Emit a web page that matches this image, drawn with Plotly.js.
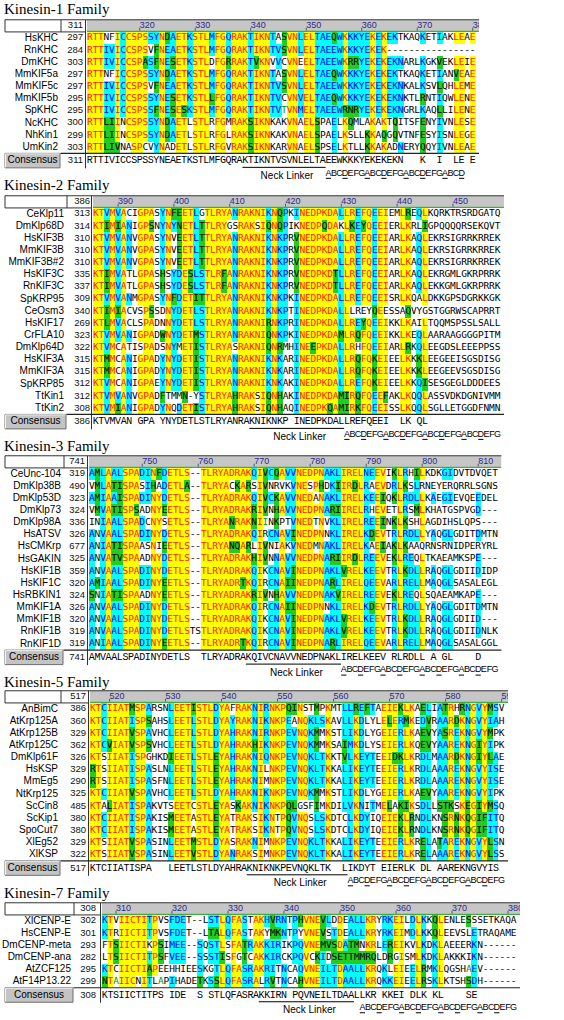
<!DOCTYPE html>
<html><head><meta charset="utf-8">
<script src="https://cdn.plot.ly/plotly-3.0.1.min.js"></script>
<style>html,body{margin:0;padding:0;background:#fff}#chart{width:564px;height:1020px}</style>
</head><body><div id="chart"></div>
<script>
// ---------------- DATA ----------------
const k1Names = ['HsKHC','RnKHC','DmKHC','MmKIF5a','MmKIF5c','MmKIF5b','SpKHC','NcKHC','NhKin1','UmKin2'];
const k1Starts = [297,284,303,297,297,295,295,300,299,303];
const k1Seqs = [
'RTTNFICCSPSSYNDAETKSTLMFGQRAKTIKNTASVNLELTAEQWKKKYEKEKEKTKAQKETIAKLEAE',
'RTTIVICCSPSVFNEAETKSTLMFGQRAKTIKNTVSVNLELTAEEWKKKYEKEK----------------',
'RTTIVICCSPASFNESETKSTLDFGRRAKTVKNVVCVNEELTAEEWKRRYEKEKEKNARLKGKVEKLEIE',
'RTTNFICCSPSSYNDAETKSTLMFGQRAKTIKNTASVNLELTAEQWKKKYEKEKEKTKAQKETIANVEAE',
'RTTIVICCSPSVFNEAETKSTLMFGQRAKTIKNTVSVNLELTAEEWKKKYEKEKEKNKALKSVLQHLEME',
'RTTIVICCSPSSYNESETKSTLLFGQRAKTIKNTVCVNVELTAEQWKKKYEKEKEKNKTLRNTIQWLENE',
'RTTIVICCSPSSFNESESKSTLMFGQRAKTIKNTVTVNMELTAEEWRNRYEKEKEKNGRLKAQLLILENE',
'RTTLIINCSPSSYNDAETLSTLRFGMRAKSIKNKAKVNAELSPAELKQMLAKAKTQITSFENYIVNLESE',
'RTTLIINCSPSSYNDAETLSTLRFGLRAKSIKNKAKVNAELSPAELKSLLKKAQGQVTNFESYISNLEGE',
'RTTLIVNASPCVYNADETLSTLRFGVRAKSIKNKARVNAELSPSELKTLLKKAKADNERYQQYIVNLEAE'];
const k1Consensus = 'RTTIVICCSPSSYNEAETKSTLMFGQRAKTIKNTVSVNLELTAEEWKKKYEKEKEKN   K  I  LE E';
const k1ConsStart = 311;

const k2Names = ['CeKlp11','DmKlp68D','HsKIF3B','MmKIF3B','MmKIF3B#2','HsKIF3C','RnKIF3C','SpKRP95','CeOsm3','HsKIF17','CrFLA10','DmKlp64D','HsKIF3A','MmKIF3A','SpKRP85','TtKin1','TtKin2'];
const k2Starts = [313,314,310,310,310,335,337,309,340,269,323,322,315,315,312,312,308];
const k2Seqs = [
'KTVMVACIGPASYNFEETLGTLRYANRAKNIKNQPKINEDPKDALLREFQEEIEMLREQLKQRKTRSRDGATQ',
'KTIMIANIGPSNYNYNETLTTLRYGSRAKSIQNQPIKNEDPQDAKLKEYQEEIERLKRLIGPQQQQRSEKQVT',
'KTVMVANVGPASYNVEETLTTLRYANRAKNIKNKPRVNEDPKDALLREFQEEIARLKAQLEKRSIGRRKRREK',
'KTVMVANVGPASYNVEETLTTLRYANRAKNIKNKPRVNEDPKDALLREFQEEIARLKAQLEKRSIGRRKRREK',
'KTVMVANVGPASYNVEETLTTLRYANRAKNIKNKPRVNEDPKDALLREFQEEIARLKAQLEKRSIGRRKRREK',
'KTIMVATLGPASHSYDESLSTLRFANRAKNIKNKPRVNEDPKDTLLREFQEEIARLKAQLEKRGMLGKRPRRK',
'KTIMVATLGPASHSYDESLSTLRFANRAKNIKNKPRVNEDPKDTLLREFQEEIARLKAQLEKKGMLGKRPRRK',
'KTVMVANMGPASYNFDETITTLRYANRAKNIKNKPKINEDPKDALLREFQEEISRLKQALDKKGPSDGRKKGK',
'KTIMIACVSPSSDNYDETLSTLRYANRAKNIKNKPTINEDPKDALLLREYQEESSAQVYGSTGGRWSCAPRRT',
'KTLMVACLSPADNNYDETLSTLRYANRAKNIRNKPRINEDPKDALLREYQEEIKKLKAILTQQMSPSSLSALL',
'KTVMVANIGPADWNYDETMSTLRYANRAKNIQNKPKINEDPKDAMLRQFQEEIKKLKEQLAARAAGGGGPITM',
'KTVMCATISPADSNYMETISTLRYASRAKNIQNRMHINEEPKDALLRHFQEEIARLRKQLEEGDSLEEEPPSS',
'KTMMCANIGPADYNYDETISTLRYANRAKNIKNKARINEDPKDALLRQFQKEIEELKKKLEEGEEISGSDISG',
'KTMMCANIGPADYNYDETISTLRYANRAKNIKNKARINEDPKDALLRQFQKEIEELKKKLEEGEEVSGSDISG',
'KTVMCANIGPAEYNYDETISTLRYANRAKNIKNKAKINEDPKDALLREFQKEIEELKKQISESGEGLDDDEES',
'KTVMVANVGPADFTMMN-YSTLRYAHRAKSIQNHAKINEDPKDAMIRQFQEEFAKLKQQLASSVDKDGNIVMM',
'KTVMIANIGPADYNQDETISTLRYAHRAKSIQNHAQINEDPKQAMIRKFQEEISSLKQQLSGLLETGGDFNMN'];
const k2Consensus = 'KTVMVAN GPA YNYDETLSTLRYANRAKNIKNKP INEDPKDALLREFQEEI  LK QL';
const k2ConsStart = 386;

const k3Names = ['CeUnc-104','DmKlp38B','DmKlp53D','DmKlp73','DmKlp98A','HsATSV','HsCMKrp','HsGAKIN','HsKIF1B','HsKIF1C','HsRBKIN1','MmKIF1A','MmKIF1B','RnKIF1B','RnKIF1D'];
const k3Starts = [319,490,323,324,336,326,677,325,359,320,324,326,320,319,319];
const k3Seqs = [
'AMLAALSPADINFDETLS--TLRYADRAKQIVCQAVVNEDPNAKLIRELNEEVIKLRHILKDKGIDVTDVQET',
'VMLATISPASIHADETLA--TLRYACKARSIVNRVKVNESPHDKIIRDLRAEVDRLKSLRNEYERQRRLSGNS',
'AMIAAISPADINYDETLS--TLRYADRAKQIVCKAVVNEDANAKLIRELKEEIQKLRDLLKAEGIEVQEEDEL',
'VMVATISPSADNYEETLS--TLRYADRAKRIVNHAVVNEDPNARIIRELRHEVETLRSMLKHATGSPVGD---',
'INIAALSPADCNYSETLS--TLRYANRAKNIINKPTVNEDTNVKLIRELREEINKLKSHLAGDIHSLQPS---',
'ANVAALSPADINYDETLS--TLRYADRAKQIRCNAVINEDPNNKLIRELKDEVTRLRDLLYAQGLGDITDMTN',
'ANIATISPAASNIEETLS--TLRYANQARLIVNIAKVNEDMNAKLIRELKAEIAKLKAAQRNSRNIDPERYRL',
'ANVATVSPAADNYDETLS--TLRYADRAKHIVNNAVVNEDPNARIIRDLREEVEKLREQLTKAEAMKSPE---',
'ANVAALSPADINYDETLS--TLRYADRAKQIKCNAVINEDPNAKLVRELKEEVTRLKDLLRAQGLGDIIDIDP',
'AMIAALSPADINYEETLS--TLRYADRTKQIRCNAIINEDPNARLIRELQEEVARLRELLMAQGLSASALEGL',
'SNIATISPAADNYEETLS--TLRYADRAKRIVNHAVVNEDPNAKVIRELREEVEKLREQLSQAEAMKAPE---',
'ANVAALSPADINYDETLS--TLRYADRAKQIRCNAIINEDPNNKLIRELKDEVTRLRDLLYAQGLGDITDMTN',
'ANVAALSPADINYDETLS--TLRYADRAKQIKCNAVINEDPNAKLVRELKEEVTRLKDLLRAQGLGDIID---',
'ANVAALSPADINYDETLSTSTLRYADRAKQIKCNAVINEDPNAKLVRELKEEVTRLKDLLRAQGLGDIIDNLK',
'ANIAALSPADINYEETLS--TLRYADRTKQIRCNAVINEDPNARLIRELQEEVARLRELLMAQGLSASALGGL'];
const k3Consensus = 'AMVAALSPADINYDETLS  TLRYADRAKQIVCNAVVNEDPNAKLIRELKEEV RLRDLL A GL    D';
const k3ConsStart = 741;

const k5Names = ['AnBimC','AtKrp125A','AtKrp125B','AtKrp125C','DmKlp61F','HsKSP','MmEg5','NtKrp125','ScCin8','ScKip1','SpoCut7','XlEg52','XlKSP'];
const k5Starts = [386,360,329,362,326,329,290,325,485,380,380,329,322];
const k5Seqs = [
'KTCIIATMSPARSNLEETISTLDYAFRAKNIRNKPQINSTMPKMTLLREFTAEIEKLKAELIATRHRNGVYMSV',
'KTCIIATISPSAHSLEETLSTLDYAYRAKNIKNKPEANQKLSKAVLLKDLYLELERMKEDVRAARDKNGVYIAH',
'KTCIIATVSPAVHCLEETLSTLDYAHRAKNIRNKPEVNQKMMKSTLIKDLYGEIERLKAEVYASREKNGVYMPK',
'KTCVIATVSPSVHCLEETLSTLDYAHRAKHIKNKPEVNQKMMKSAIMKDLYSEIERLKQEVYAAREKNGIYIPK',
'KTSIIATISPGHKDIEETLSTLEYAHRAKNIQNKPEVNQKLTKKTVLKEYTEEIDKLKRDLMAARDKNGIYLAE',
'RTSIIATISPASLNLEETLSTLEYAHRAKNILNKPEVNQKLTKKALIKEYTEEIERLKRDLAAAREKNGVYISE',
'RTSIIATISPASFNLEETLSTLEYAHRAKNIMNKPEVNQKLTKKALIKEYTEEIERLKRDLAAAREKNGVYISE',
'KTCIIATVSPAVHCLEETLSTLDYAHRAKNIKNKPEVNQKMMKSTLIKDLYGEIERLKAEVYAAREKNGVYIPK',
'KTALIATISPAKVTSEETCSTLEYASKAKNIKNKPQLGSFIMKDILVKNITMELAKIKSDLLSTKSKEGIYMSQ',
'KTCIIATISPAKISMEETASTLEYATRAKSIKNTPQVNQSLSKDTCLKDYIQEIEKLRNDLKNSRNKQGIFITQ',
'KTCIIATISPAKISMEETASTLEYATRAKSIKNTPQVNQSLSKDTCLKDYIQEIEKLRNDLKNSRNKQGIFITQ',
'KTSIIATVSPASINLEETMSTLDYASRAKNIMNKPEVNQKLTKKALIKEYTEEIERLKRELATAREKNGVYLSN',
'KTSIIATVSPASINLEETVSTLDYANRAKSIMNKPEVNQKLTKKALIKEYTEEIERLKRELAAAREKNGVYLSS'];
const k5Consensus = 'KTCIIATISPA   LEETLSTLDYAHRAKNIKNKPEVNQKLTK  LIKDYT EIERLK DL AAREKNGVYIS';
const k5ConsStart = 517;

const k7Names = ['XlCENP-E','HsCENP-E','DmCENP-meta','DmCENP-ana','AtZCF125','AtF14P13.22'];
const k7Starts = [302,301,293,282,295,299];
const k7Seqs = [
'KTVIICTITPVSFDET--LSTLQFASTAKHVRNTPHVNEVLDDEALLKRYRKEILDLKKQLENLESSSETKAQA',
'KTRIICTITPVSFDET--LTALQFASTAKYMKNTPYVNEVSTDEALLKRYRKEIMDLKKQLEEVSLETRAQAME',
'FTSIICTIKPSIMEE--SQSTLSFATRAKKIRIKPQVNEMVSDATMNKRLEREIKVLKDKLAEEERKN------',
'LTSIICTITPSFVEE--SSSTISFGTCAKKIRCKPQVCKIDSETTMMRQLDRGISMLKDKLAKKKIKN------',
'KTCIICTIAPEEHHIEESKGTLQFASRAKRITNCAQVNEILTDAALLKRQKLEIEELRMKLQGSHAEV------',
'NTAIICNITLAPIHADETKSSLQFASRALRVTNCAHVNEILTDAALLKRQKKEIEELRSKLKTSHSDH------'];
const k7Consensus = 'KTSIICTITPS IDE  S STLQFASRAKKIRN PQVNEILTDAALLKR KKEI DLK KL    SE';
const k7ConsStart = 308;

const familyTitles = ['Kinesin-1 Family','Kinesin-2 Family','Kinesin-3 Family','Kinesin-5 Family','Kinesin-7 Family'];
const heptadText = 'ABCDEFG';

// ---------------- LAYOUT CONFIG ----------------
const W = 564, H = 1020, PITCH = 12.15;
const panels = [
 {names:k1Names, starts:k1Starts, seqs:k1Seqs, cons:k1Consensus, consStart:k1ConsStart, titleY:10,  row0:38,  nameR:57, numR:83, x0:87,  cw:5.55, neck:[28,42], hep:[43,25]},
 {names:k2Names, starts:k2Starts, seqs:k2Seqs, cons:k2Consensus, consStart:k2ConsStart, titleY:186, row0:214, nameR:63, numR:90, x0:93,  cw:5.58, neck:[28,44], hep:[45,28]},
 {names:k3Names, starts:k3Starts, seqs:k3Seqs, cons:k3Consensus, consStart:k3ConsStart, titleY:447, row0:474, nameR:60, numR:85, x0:89,  cw:5.6,  neck:[28,44], hep:[45,28]},
 {names:k5Names, starts:k5Starts, seqs:k5Seqs, cons:k5Consensus, consStart:k5ConsStart, titleY:683, row0:709, nameR:57, numR:86, x0:90,  cw:5.6,  neck:[28,45], hep:[46,28]},
 {names:k7Names, starts:k7Starts, seqs:k7Seqs, cons:k7Consensus, consStart:k7ConsStart, titleY:894, row0:921, nameR:70, numR:96, x0:102, cw:5.6,  neck:[28,44], hep:[46,28]}
];
const EXT = 0.65;

const GROUPS = ['STA','NEQK','NHQK','NDEQ','QHRK','MILV','MILF','HY','FYW'];
function sim(a,b){ if(a===b) return true; return GROUPS.some(g=>g.includes(a)&&g.includes(b)); }
// Conservation class per cell, derived from the alignment and its consensus line
function classify(seqs, cons){
  const N = seqs.length, L = seqs[0].length;
  const out = seqs.map(()=>new Array(L).fill(0));
  for(let j=0;j<L;j++){
    const c = cons[j] || ' ';
    if(c===' ') continue;
    let eq=0, sm=0;
    for(const s of seqs){ if(s[j]===c) eq++; if(s[j]!=='-' && sim(s[j],c)) sm++; }
    const fc=eq/N, fs=sm/N;
    for(let i=0;i<N;i++){
      const r = seqs[i][j];
      if(r==='-') continue;
      if(r===c) out[i][j] = fc>=0.8 ? 1 : ((fc>=0.5 || fs>=0.6) ? 2 : 3);
      else if(sim(r,c)) out[i][j] = fc>=0.5 ? 3 : (fs>=0.6 ? 2 : 4);
    }
  }
  return out;
}

const BG = {0:'#ffffff',1:'#ffff00',2:'#00ffff',3:'#22cc22',4:'#ffffff'};
const FG = {0:'#000000',1:'#ff2200',2:'#0000ee',3:'#000000',4:'#009900'};
const SEQFONT = 'DejaVu Sans Mono, monospace';
const CONSFONT = 'Liberation Mono, Courier New, monospace';
const SANS = 'Liberation Sans, Arial, sans-serif';

const traces = [];
const shapes = [];
const layout = {
  width:W, height:H, margin:{l:0,r:0,t:0,b:0}, paper_bgcolor:'#ffffff', plot_bgcolor:'rgba(0,0,0,0)',
  showlegend:false, hovermode:false,
  xaxis:{domain:[0,1], range:[0,W], visible:false, fixedrange:true},
  yaxis:{domain:[0,1], range:[H,0], visible:false, fixedrange:true}
};
function pageText(xs, ys, texts, pos, font){
  traces.push({type:'scatter', mode:'text', x:xs, y:ys, text:texts, textposition:pos,
    textfont:font, xaxis:'x', yaxis:'y', cliponaxis:false, hoverinfo:'skip'});
}
function line(x0,y0,x1,y1,color,width,layer){
  shapes.push({type:'line', xref:'x', yref:'y', x0:x0, y0:y0, x1:x1, y1:y1, layer:layer||'above',
    line:{color:color||'#333333', width:width||1}});
}

panels.forEach((p,pi)=>{
  const ax = pi+2, N = p.seqs.length, L = p.seqs[0].length;
  const xr = p.x0 + (L+EXT)*p.cw;
  const yTopPx = p.row0 - 1.5*PITCH, yBotPx = p.row0 + (N+0.7)*PITCH;
  layout['xaxis'+ax] = {domain:[p.x0/W, xr/W], range:[-0.5, L-0.5+EXT], visible:false, fixedrange:true, anchor:'y'+ax};
  layout['yaxis'+ax] = {domain:[1-yBotPx/H, 1-yTopPx/H], range:[N+0.7,-1.5], visible:false, fixedrange:true, anchor:'x'+ax};
  const xa='x'+ax, ya='y'+ax;
  const codes = classify(p.seqs, p.cons);
  const colIdx = Array.from({length:L},(_,j)=>j);
  const rowIdx = Array.from({length:N},(_,i)=>i);
  traces.push({type:'heatmap', x:colIdx, y:rowIdx, z:codes, xaxis:xa, yaxis:ya, zmin:-0.5, zmax:4.5,
    showscale:false, hoverinfo:'skip', zsmooth:false,
    colorscale:[[0,BG[0]],[0.2,BG[0]],[0.2,BG[1]],[0.4,BG[1]],[0.4,BG[2]],[0.6,BG[2]],[0.6,BG[3]],[0.8,BG[3]],[0.8,BG[4]],[1,BG[4]]]});
  // residue letters grouped by text colour
  const groups = {};
  p.seqs.forEach((s,i)=>{ for(let j=0;j<L;j++){ const k=codes[i][j];
    (groups[k]=groups[k]||{x:[],y:[],t:[]}); groups[k].x.push(j); groups[k].y.push(i); groups[k].t.push(s[j]); }});
  Object.keys(groups).forEach(k=>{
    traces.push({type:'scatter', mode:'text', x:groups[k].x, y:groups[k].y, text:groups[k].t, textposition:'middle center',
      textfont:{family:SEQFONT, size:9.5, color:FG[k]}, xaxis:xa, yaxis:ya, hoverinfo:'skip', cliponaxis:false});
  });
  // consensus letters
  const consRow = N-1+13.5/PITCH;
  const cx=[],cy=[],ct=[];
  for(let j=0;j<p.cons.length;j++){ if(p.cons[j]!==' '){cx.push(j);cy.push(consRow);ct.push(p.cons[j]);} }
  traces.push({type:'scatter', mode:'text', x:cx, y:cy, text:ct, textposition:'middle center',
    textfont:{family:CONSFONT, size:10, color:'#000'}, xaxis:xa, yaxis:ya, hoverinfo:'skip', cliponaxis:false});
  // ruler header band
  shapes.push({type:'rect', xref:xa, yref:ya, x0:-0.5, x1:L-0.5+EXT, y0:-1.5, y1:-0.5, layer:'below',
    fillcolor:'#c6c6c6', line:{width:0}});
  shapes.push({type:'line', xref:xa, yref:ya, x0:-0.5, x1:L-0.5+EXT, y0:-0.55, y1:-0.55, layer:'above',
    line:{color:'#22aa22', width:1}});
  const rx=[],ry=[],rt=[];
  for(let j=-3;j<=L+2;j++){ const pos=p.consStart+j; if(pos%10===0){ rx.push(j); ry.push(-1.05); rt.push(String(pos));
    shapes.push({type:'line', xref:xa, yref:ya, x0:j, x1:j, y0:-0.6, y1:-0.85, layer:'above', line:{color:'#555577', width:1}}); } }
  traces.push({type:'scatter', mode:'text', x:rx, y:ry, text:rt, textposition:'middle right',
    textfont:{family:SANS, size:9, color:'#2b2b8c'}, xaxis:xa, yaxis:ya, hoverinfo:'skip', cliponaxis:true});

  // page-level elements
  const hTop = yTopPx, hBot = yTopPx+PITCH;
  const consY = p.row0 + (N-1)*PITCH + 13.5;
  pageText([4],[p.titleY],[familyTitles[pi]],'middle right',{family:'Liberation Serif, Times New Roman, serif', size:15, color:'#000'});
  const ys = p.names.map((_,i)=>p.row0+i*PITCH);
  pageText(p.names.map(()=>p.nameR+1), ys, p.names, 'middle left', {family:SANS, size:10, color:'#000'});
  pageText(p.starts.map(()=>p.numR), ys, p.starts.map(String), 'middle left', {family:SANS, size:9.5, color:'#111'});
  pageText([p.numR],[hTop+PITCH/2],[String(p.consStart)],'middle left',{family:SANS, size:9.5, color:'#111'});
  pageText([p.numR],[consY],[String(p.consStart)],'middle left',{family:SANS, size:9.5, color:'#111'});
  // consensus button (drawn beneath its label)
  shapes.push({type:'rect', xref:'x', yref:'y', x0:5, x1:p.nameR+3, y0:consY-7.5, y1:consY+7, layer:'below',
    fillcolor:'#c4c4c4', line:{color:'#6f6f6f', width:1}});
  line(5.5,consY-7,p.nameR+2.5,consY-7,'#f2f2f2',1,'below');
  line(5.5,consY-7,5.5,consY+6.5,'#f2f2f2',1,'below');
  pageText([(5+p.nameR+3)/2],[consY],['Consensus'],'middle center',{family:SANS, size:10, color:'#000'});
  // frame lines
  line(5,hTop,xr,hTop,'#333333',1);
  line(5,hTop,5,hBot,'#333333',1);
  line(5,hBot,p.x0-2,hBot,'#333333',1);
  line(p.nameR+4,hTop,p.nameR+4,hBot,'#333333',1);
  line(p.x0-1.5,hTop,p.x0-1.5,consY+7.5,'#333333',1);
  line(p.nameR+3.5,consY-7.5,xr,consY-7.5,'#222222',1.2);
  // neck linker
  const nx0 = p.x0 + p.neck[0]*p.cw, nx1 = p.x0 + (p.neck[1]+1)*p.cw;
  line(nx0,consY+6.5,nx1,consY+6.5,'#000000',1);
  pageText([(nx0+nx1)/2+3],[consY+15.5],['Neck Linker'],'middle center',{family:SANS, size:10, color:'#000'});
  // heptad repeat letters
  const hx=[],hy=[],ht=[];
  for(let k=0;k<p.hep[1];k++){
    const col=p.hep[0]+k, xc=p.x0+(col+0.5)*p.cw, letter=heptadText[k%7];
    hx.push(xc); hy.push(consY+12.5); ht.push(letter);
    if(letter==='A'||letter==='D') line(xc-2.6,consY+17.5,xc+2.6,consY+17.5,'#000000',1);
  }
  pageText(hx,hy,ht,'middle center',{family:SANS, size:9, color:'#000'});
});
layout.shapes = shapes;
Plotly.newPlot('chart', traces, layout, {staticPlot:true, displayModeBar:false});
</script>
</body></html>
